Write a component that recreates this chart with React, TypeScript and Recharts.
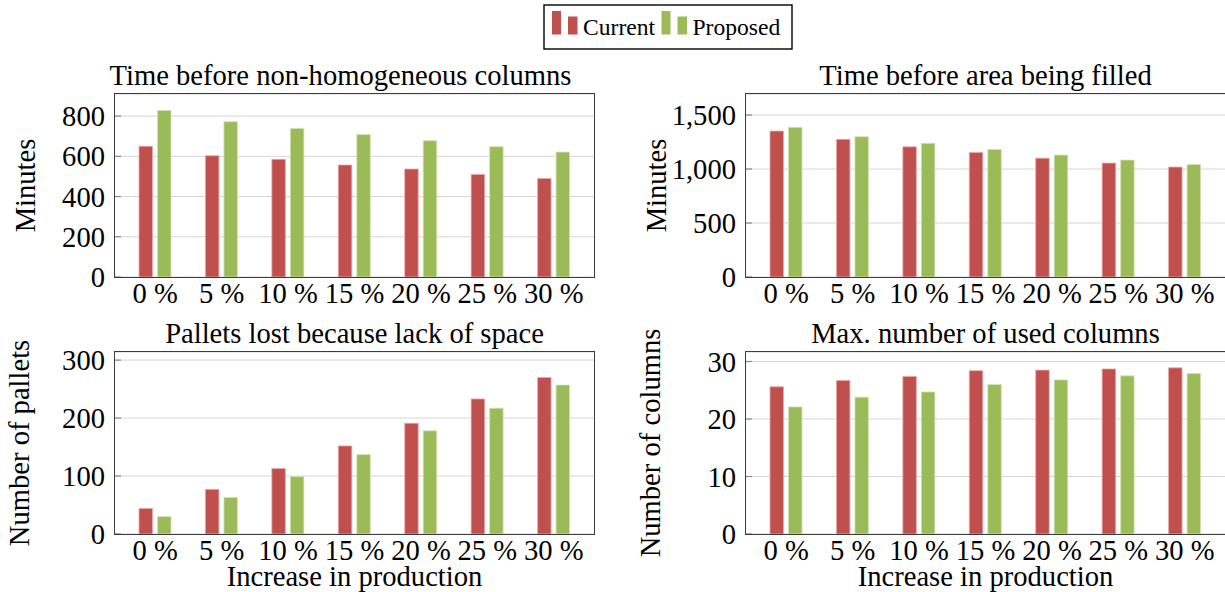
import { BarChart, Bar, XAxis, YAxis, CartesianGrid } from 'recharts'

// categories and series
const categories = ['0 %', '5 %', '10 %', '15 %', '20 %', '25 %', '30 %']
const seriesNames = ['Current', 'Proposed']

// time before non-homogeneous columns (minutes)
const homogeneousCurrent = [650, 603, 585, 557, 537, 510, 490]
const homogeneousProposed = [828, 772, 739, 708, 678, 648, 621]

// time before area being filled (minutes)
const filledCurrent = [1352, 1275, 1206, 1154, 1101, 1055, 1018]
const filledProposed = [1386, 1299, 1238, 1182, 1129, 1083, 1043]

// pallets lost because lack of space
const lostCurrent = [44, 77, 113, 152, 191, 233, 270]
const lostProposed = [30, 63, 99, 137, 178, 217, 257]

// max. number of used columns
const columnsCurrent = [25.6, 26.7, 27.4, 28.4, 28.5, 28.7, 28.9]
const columnsProposed = [22.1, 23.8, 24.7, 26.0, 26.8, 27.5, 27.9]

// y ticks
const homogeneousTicks = [0, 200, 400, 600, 800]
const filledTicks = [0, 500, 1000, 1500]
const lostTicks = [0, 100, 200, 300]
const columnsTicks = [0, 10, 20, 30]

const FONT = "'Liberation Serif', 'Times New Roman', Times, serif"
const FS = 28.6
const RED = '#c0504d'
const GREEN = '#9bbb59'
const FRAME = '#3c3c3c'
const GRID = '#d6d6d6'

const Y_W = 115
const PLOT_W = 479
const M_TOP = 40

function buildRows(cur: number[], prop: number[]) {
  return categories.map((cat, i) => ({ cat, current: cur[i], proposed: prop[i] }))
}

// y label (rotated) + panel title, placed from the y axis box
function AxisTexts(props: any) {
  const vb = props.viewBox
  if (!vb) return null
  const cx = vb.x + vb.width - props.fromRight
  const cy = vb.y + vb.height / 2
  const tx = vb.x + vb.width + PLOT_W / 2 + (props.titleDx || 0)
  return (
    <g fontFamily={FONT} fontSize={FS} fill="#000">
      <text x={cx} y={cy} transform={`rotate(-90 ${cx} ${cy})`} textAnchor="middle" dominantBaseline="central">
        {props.text}
      </text>
      <text x={tx} y={vb.y - 19} textAnchor="middle" dominantBaseline="central">
        {props.title}
      </text>
    </g>
  )
}

function BottomText(props: any) {
  const vb = props.viewBox
  if (!vb) return null
  return (
    <text x={vb.x + vb.width / 2} y={vb.y + 42.5} textAnchor="middle"
      dominantBaseline="central" fontFamily={FONT} fontSize={FS} fill="#000">
      {props.text}
    </text>
  )
}

interface PanelProps {
  title: string
  titleDx?: number
  yLabel: string
  yLabelOffset: number
  xLabel?: string
  cur: number[]
  prop: number[]
  yMax: number
  ticks: number[]
  plotLeft: number
  plotTop: number
  plotH: number
}

function Panel(p: PanelProps) {
  const xh = p.xLabel ? 60 : 44
  const fmt = (v: number) => v.toLocaleString('en-US')
  const tickStyle = { fill: '#000', fontSize: FS, fontFamily: FONT }
  return (
    <div style={{ position: 'absolute', left: p.plotLeft - Y_W, top: p.plotTop - M_TOP, fontFamily: FONT }}>
      <BarChart width={Y_W + PLOT_W + 2} height={M_TOP + p.plotH + xh} style={{ fontFamily: FONT }}
        data={buildRows(p.cur, p.prop)} margin={{ top: M_TOP, right: 2, bottom: 0, left: 0 }}
        barSize={13.5} barGap={5}>
        <CartesianGrid vertical={false} stroke={GRID} strokeWidth={1} />
        <XAxis dataKey="cat" interval={0} padding={{ left: 7, right: 7 }} height={xh}
          tickLine={false} tickSize={4} tickMargin={2} tick={tickStyle} axisLine={false}
          label={p.xLabel ? { content: (lp: any) => <BottomText viewBox={lp.viewBox} text={p.xLabel} /> } : undefined} />
        {/* inward tick marks, as in the pgfplots box axis */}
        <YAxis type="number" domain={[0, p.yMax]} ticks={p.ticks} interval={0} width={Y_W}
          tickLine={{ stroke: '#8a8a8a', strokeWidth: 1.2 }} tickSize={-6} tickMargin={16}
          tick={tickStyle} tickFormatter={fmt} axisLine={false}
          label={{ content: (lp: any) => <AxisTexts viewBox={lp.viewBox} text={p.yLabel} fromRight={p.yLabelOffset} title={p.title} titleDx={p.titleDx} /> }} />
        <Bar dataKey="current" name={seriesNames[0]} fill={RED} stroke="#e7aaa8" strokeWidth={0.8} isAnimationActive={false} />
        <Bar dataKey="proposed" name={seriesNames[1]} fill={GREEN} stroke="#d3e3b4" strokeWidth={0.8} isAnimationActive={false} />
      </BarChart>
      {/* axis box frame */}
      <div style={{
        position: 'absolute', left: Y_W - 0.6, top: M_TOP - 0.6, width: PLOT_W, height: p.plotH,
        border: `1.3px solid ${FRAME}`, pointerEvents: 'none',
      }} />
    </div>
  )
}

function LegendBox() {
  const colors = [RED, GREEN]
  const starts = [9, 118.5]
  return (
    <svg width={250} height={46} style={{ position: 'absolute', left: 543, top: 4 }}>
      <rect x={1} y={1} width={248} height={44} fill="#fff" stroke="#000" strokeWidth={1.4} />
      {seriesNames.map((name, i) => (
        <g key={name}>
          <rect x={starts[i]} y={7} width={9} height={23.5} fill={colors[i]} />
          <rect x={starts[i] + 16} y={12.5} width={9.5} height={18} fill={colors[i]} />
          <text x={starts[i] + 31} y={30.5} fontFamily={FONT} fontSize={23.6} fill="#000">{name}</text>
        </g>
      ))}
    </svg>
  )
}

export default function App() {
  return (
    <div style={{ position: 'absolute', left: 0, top: 0, width: 1225, height: 592, overflow: 'hidden', background: '#fff', fontFamily: FONT }}>
      <LegendBox />
      <Panel title="Time before non-homogeneous columns" titleDx={-14} yLabel="Minutes" yLabelOffset={90}
        cur={homogeneousCurrent} prop={homogeneousProposed} yMax={910} ticks={homogeneousTicks}
        plotLeft={115} plotTop={94} plotH={183} />
      <Panel title="Time before area being filled" yLabel="Minutes" yLabelOffset={90}
        cur={filledCurrent} prop={filledProposed} yMax={1695} ticks={filledTicks}
        plotLeft={746} plotTop={94} plotH={183} />
      <Panel title="Pallets lost because lack of space" yLabel="Number of pallets" yLabelOffset={96}
        xLabel="Increase in production"
        cur={lostCurrent} prop={lostProposed} yMax={314} ticks={lostTicks}
        plotLeft={115} plotTop={352} plotH={182} />
      <Panel title="Max. number of used columns" yLabel="Number of columns" yLabelOffset={96}
        xLabel="Increase in production"
        cur={columnsCurrent} prop={columnsProposed} yMax={31.65} ticks={columnsTicks}
        plotLeft={746} plotTop={352} plotH={182} />
    </div>
  )
}
